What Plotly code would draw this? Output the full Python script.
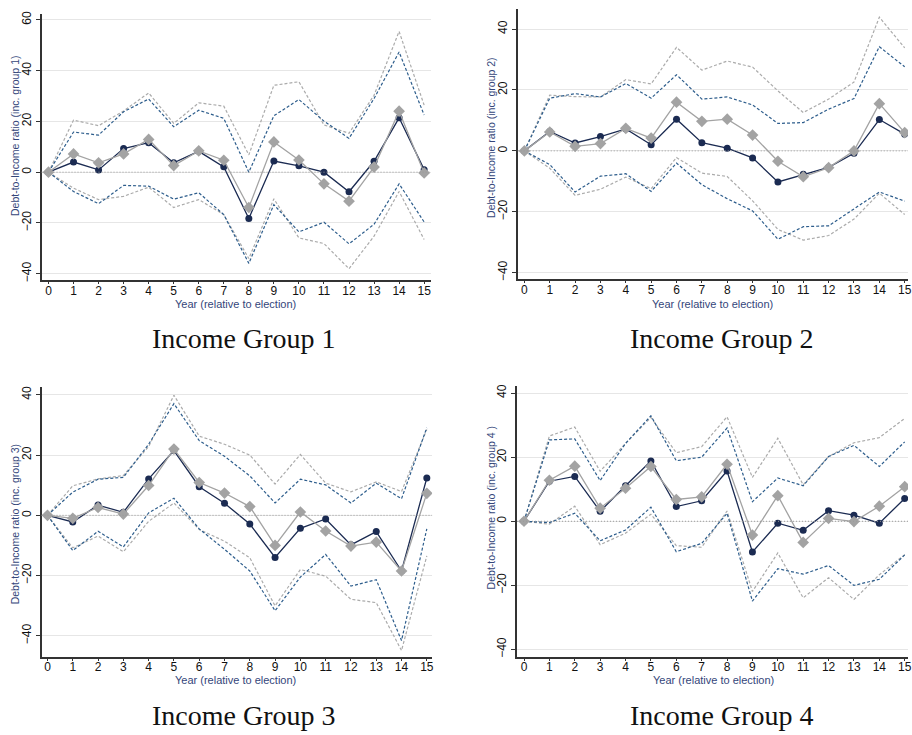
import plotly.graph_objects as go

years = list(range(16))

# Group 1
g1_coef = [0, 4.0, 0.9, 9.3, 11.6, 3.7, 8.2, 2.1, -18.2, 4.4, 2.5, 0.0, -7.7, 4.3, 21.4, 1.0]
g1_hi = [0, 15.8, 14.6, 23.8, 28.8, 17.9, 24.4, 21.2, 0.0, 22.2, 28.6, 20.1, 13.3, 29.0, 47.3, 22.5]
g1_lo = [0, -7.6, -12.4, -5.2, -5.5, -10.6, -8.1, -16.7, -35.9, -12.8, -23.5, -19.7, -28.2, -20.5, -4.6, -19.6]
g1_alt = [0, 7.2, 3.7, 7.2, 12.9, 2.6, 8.4, 4.7, -13.9, 11.9, 4.8, -4.6, -11.4, 2.0, 24.0, -0.3]
g1_alt_hi = [0, 20.5, 18.3, 24.1, 31.2, 19.2, 27.3, 26.0, 6.8, 34.2, 35.6, 18.6, 15.3, 30.3, 55.4, 26.4]
g1_alt_lo = [0, -6.3, -10.8, -9.5, -5.9, -13.9, -10.8, -16.7, -34.0, -10.5, -25.9, -28.1, -38.0, -25.2, -7.6, -26.5]

# Group 2
g2_coef = [0, 6.4, 2.6, 4.7, 7.2, 2.0, 10.4, 2.7, 0.9, -2.3, -10.2, -7.7, -5.4, -0.8, 10.3, 5.5]
g2_hi = [0, 17.3, 18.8, 17.7, 22.1, 17.3, 25.0, 17.0, 17.7, 15.1, 9.0, 9.3, 13.7, 17.2, 34.2, 27.6]
g2_lo = [0, -4.5, -13.5, -8.3, -7.5, -13.3, -4.0, -11.1, -15.7, -19.7, -29.0, -24.9, -24.6, -18.9, -13.5, -16.5]
g2_alt = [0, 6.2, 1.5, 2.4, 7.4, 4.2, 16.0, 9.7, 10.4, 5.2, -3.4, -8.5, -5.5, 0.0, 15.5, 6.0]
g2_alt_hi = [0, 18.3, 17.8, 17.7, 23.4, 22.0, 34.0, 26.5, 29.5, 27.5, 19.7, 12.6, 17.0, 22.6, 43.9, 33.8]
g2_alt_lo = [0, -5.7, -14.6, -12.6, -8.6, -12.4, -2.2, -7.3, -8.4, -16.4, -25.8, -29.3, -27.8, -22.4, -13.9, -20.9]

# Group 3
g3_coef = [0, -2.2, 3.4, 1.0, 12.1, 21.5, 9.5, 4.0, -2.9, -14.0, -4.3, -1.2, -9.8, -5.4, -18.5, 12.4]
g3_hi = [0, 7.7, 12.0, 12.6, 23.6, 37.1, 24.8, 19.6, 13.1, 4.1, 12.0, 10.1, 4.1, 10.7, 5.5, 29.1]
g3_lo = [0, -11.7, -5.3, -10.5, 0.8, 5.7, -4.5, -11.3, -18.5, -31.7, -20.5, -13.0, -23.5, -21.4, -41.6, -4.5]
g3_alt = [0, -1.0, 2.6, 0.4, 9.9, 22.0, 10.9, 7.4, 2.9, -10.0, 1.1, -5.2, -10.2, -8.9, -18.5, 7.3]
g3_alt_hi = [0, 9.8, 12.1, 13.2, 22.8, 39.9, 26.3, 23.6, 20.0, 10.4, 20.2, 10.7, 7.8, 11.1, 7.9, 28.5]
g3_alt_lo = [0, -10.8, -6.9, -12.1, -2.0, 4.1, -4.7, -8.6, -14.1, -30.1, -18.0, -20.2, -27.9, -29.0, -44.9, -13.5]

# Group 4
g4_coef = [0, 12.5, 14.0, 3.1, 11.1, 18.8, 4.6, 6.4, 15.7, -9.6, -0.6, -2.8, 3.3, 1.9, -0.6, 7.1]
g4_hi = [0, 25.4, 25.7, 12.7, 24.3, 32.9, 18.9, 20.0, 29.1, 6.1, 13.5, 11.1, 20.2, 23.7, 17.1, 24.8]
g4_lo = [0, -0.4, 2.5, -6.1, -2.7, 4.4, -9.5, -6.9, 2.5, -24.9, -14.8, -16.5, -13.8, -20.0, -18.1, -10.5]
g4_alt = [0, 12.8, 17.2, 4.1, 10.3, 17.1, 6.8, 7.6, 17.8, -4.3, 8.0, -6.6, 0.9, -0.1, 4.7, 10.8]
g4_alt_hi = [0, 26.6, 29.4, 15.6, 24.3, 32.4, 21.4, 23.3, 32.6, 13.7, 25.9, 11.4, 20.2, 24.5, 26.1, 32.1]
g4_alt_lo = [0, -0.9, 4.7, -7.3, -3.7, 2.2, -7.6, -8.1, 3.2, -21.9, -9.9, -23.9, -17.6, -24.4, -16.7, -10.4]

y_titles = [
    "Debt-to-Income ratio (inc. group 1)",
    "Debt-to-Income ratio (inc. group 2)",
    "Debt-to-Income ratio (inc. group 3)",
    "Debt-to-Income ratio (inc. group 4 )",
]
captions = ["Income Group 1", "Income Group 2", "Income Group 3", "Income Group 4"]
x_title = "Year (relative to election)"
y_ticks = [[-40, -20, 0, 20, 40, 60], [-40, -20, 0, 20, 40], [-40, -20, 0, 20, 40], [-40, -20, 0, 20, 40]]

groups = [
    (g1_coef, g1_hi, g1_lo, g1_alt, g1_alt_hi, g1_alt_lo),
    (g2_coef, g2_hi, g2_lo, g2_alt, g2_alt_hi, g2_alt_lo),
    (g3_coef, g3_hi, g3_lo, g3_alt, g3_alt_hi, g3_alt_lo),
    (g4_coef, g4_hi, g4_lo, g4_alt, g4_alt_hi, g4_alt_lo),
]

W, H = 912, 735
# panel layout in pixels: (left, right, top, bottom), x range, y range, text positions
panels = [
    dict(px=(41.7, 432.7, 11, 279.3), xr=(-0.278, 15.266), yr=(-42.6, 62.3),
         cap=(245, 338), ytl=(15, 134), xtl=(237, 303)),
    dict(px=(520, 912, 6, 278.3), xr=(-0.263, 15.13), yr=(-42.2, 46.6),
         cap=(725, 338), ytl=(493, 136), xtl=(716, 303)),
    dict(px=(41.7, 434, 386.7, 658.3), xr=(-0.236, 15.209), yr=(-47.0, 42.6),
         cap=(245, 717), ytl=(15, 525), xtl=(237, 682)),
    dict(px=(519.3, 912, 386, 658.3), xr=(-0.275, 15.13), yr=(-42.3, 42.1),
         cap=(725, 717), ytl=(493, 508), xtl=(717, 682)),
]

NAVY = "#1b2b52"
NAVY_CI = "#2d5d8c"
GRAY = "#a3a3a3"
GRAY_CI = "#ababab"
TITLE_C = "#34467a"

fig = go.Figure()
layout = dict(
    width=W, height=H, margin=dict(l=0, r=0, t=0, b=0),
    paper_bgcolor="white", plot_bgcolor="white", showlegend=False,
    font=dict(family="Liberation Sans, Arial, sans-serif", size=12, color="#111"),
)
annotations = []
shapes = []

for i, (grp, p) in enumerate(zip(groups, panels)):
    coef, hi, lo, alt, alt_hi, alt_lo = grp
    n = i + 1
    xa = "x" if n == 1 else f"x{n}"
    ya = "y" if n == 1 else f"y{n}"
    l, r, t, b = p["px"]
    dash_ci = "3px,2px"
    for ys, c in [(alt_hi, GRAY_CI), (alt_lo, GRAY_CI), (hi, NAVY_CI), (lo, NAVY_CI)]:
        fig.add_trace(go.Scatter(x=years, y=ys, mode="lines", xaxis=xa, yaxis=ya,
                                 line=dict(color=c, width=1.2, dash=dash_ci), hoverinfo="skip"))
    fig.add_trace(go.Scatter(x=years, y=coef, mode="lines+markers", xaxis=xa, yaxis=ya,
                             line=dict(color=NAVY, width=1.3),
                             marker=dict(symbol="circle", size=7, color=NAVY)))
    fig.add_trace(go.Scatter(x=years, y=alt, mode="lines+markers", xaxis=xa, yaxis=ya,
                             line=dict(color=GRAY, width=1.3),
                             marker=dict(symbol="diamond", size=9, color=GRAY)))

    xkey = "xaxis" if n == 1 else f"xaxis{n}"
    ykey = "yaxis" if n == 1 else f"yaxis{n}"
    layout[xkey] = dict(
        domain=[l / W, min(r / W, 1.0)], anchor=ya, range=list(p["xr"]),
        tickvals=years, ticktext=[str(v) for v in years], ticklabeloverflow="allow",
        showgrid=False, zeroline=False, showline=True, linecolor="#333", linewidth=1.5,
        ticks="outside", ticklen=2, tickcolor="#333", tickwidth=1,
        tickfont=dict(size=12, color="#111"), ticklabelstandoff=-4,
    )
    layout[ykey] = dict(
        domain=[1 - b / H, 1 - t / H], anchor=xa, range=list(p["yr"]),
        tickvals=y_ticks[i], tickangle=-90,
        showgrid=True, gridcolor="#e6e6e6", gridwidth=1,
        zeroline=False, showline=True, linecolor="#333", linewidth=1.5,
        ticks="outside", ticklen=4, tickcolor="#333", tickwidth=1,
        tickfont=dict(size=12, color="#111"), ticklabelstandoff=0,
    )
    shapes.append(dict(type="line", xref=f"{xa} domain", yref=ya, x0=0, x1=1, y0=0, y1=0,
                       line=dict(color="#9a9a9a", width=1, dash="1px,2px"), layer="above"))
    cx, cy = p["cap"]
    annotations.append(dict(text=captions[i], xref="paper", yref="paper",
                            x=cx / W, y=1 - cy / H, xanchor="center", yanchor="middle",
                            showarrow=False,
                            font=dict(family="Liberation Serif, Times New Roman, serif", size=28, color="#111")))
    tx, ty = p["ytl"]
    annotations.append(dict(text=y_titles[i], xref="paper", yref="paper",
                            x=tx / W, y=1 - ty / H, xanchor="center", yanchor="middle",
                            textangle=-90, showarrow=False,
                            font=dict(size=10.5, color=TITLE_C)))
    tx, ty = p["xtl"]
    annotations.append(dict(text=x_title, xref="paper", yref="paper",
                            x=tx / W, y=1 - ty / H, xanchor="center", yanchor="middle",
                            showarrow=False,
                            font=dict(size=11, color=TITLE_C)))

layout["annotations"] = annotations
layout["shapes"] = shapes
fig.update_layout(**layout)
fig.write_html("out.html", config={"displayModeBar": False},
               post_script="document.body.style.margin='0';document.body.style.overflow='hidden';")
